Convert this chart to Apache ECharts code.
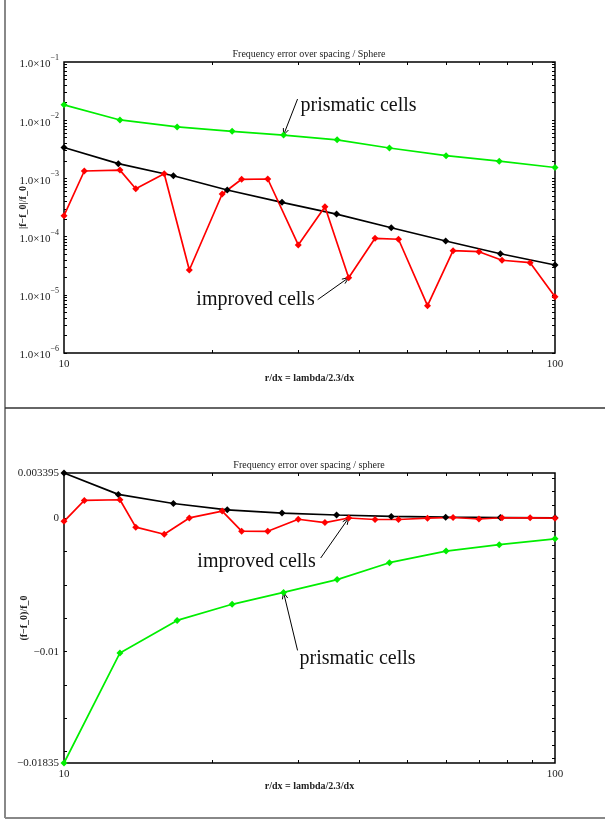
<!DOCTYPE html>
<html>
<head>
<meta charset="utf-8">
<script src="https://cdn.jsdelivr.net/npm/echarts@6/dist/echarts.min.js"></script>
<style>
  html, body { margin: 0; padding: 0; background: #fff; }
  #main { width: 605px; height: 822px; }
</style>
</head>
<body>
<div id="main"></div>
<script>
// x positions (r/dx) of each series
var xReference = [10, 12.9, 16.7, 21.5, 27.8, 35.9, 46.4, 59.9, 77.4, 100];
var xPrismatic = [10, 13, 17, 22, 28, 36, 46, 60, 77, 100];
var xImproved = [10, 11, 13, 14, 16, 18, 21, 23, 26, 30, 34, 38, 43, 48, 55, 62, 70, 78, 89, 100];

var reference = [0.003395, 0.00179, 0.00111, 0.000632, 0.000388, 0.000244, 0.000142, 0.000084, 0.0000508, 0.0000325];
var prismatic = [-0.01835, -0.0101, -0.00766, -0.00645, -0.00556, -0.0046, -0.00333, -0.00246, -0.00198, -0.00154];
var improved = [-0.000229, 0.00134, 0.00139, -0.000665, -0.0012, 0.0000267, 0.00054, -0.000965, -0.000977, -0.0000718,
  -0.000326, 0.0000197, -0.0000935, -0.00009, 0.0000065, 0.0000573, -0.000055, 0.0000392, 0.0000356, 0.00000927];

// tick labels
var linLabels = [-0.01835, -0.01, 0, 0.003395];
var xMinor = [20, 30, 40, 50, 60, 70, 80, 90];

var serif = "'Liberation Serif', 'DejaVu Serif', serif";
var ink = '#222';

function pairs(xs, ys, absolute) {
  return xs.map(function (x, i) { return [x, absolute ? Math.abs(ys[i]) : ys[i]]; });
}

var logTicks = [];
for (var e = -6; e <= -1; e++) {
  for (var m = 1; m <= 9; m++) {
    if (e === -1 && m > 1) break;
    logTicks.push(m * Math.pow(10, e));
  }
}
var linTicksLeft = [], linTicksRight = [];
for (var t = 0; t <= 7; t++) linTicksLeft.push(-0.0025 * t);
for (var t2 = -18; t2 <= 3; t2++) linTicksRight.push(0.001 * t2);

function xAxes(grid, gap) {
  return [{
    type: 'log', gridIndex: grid, position: 'bottom', min: 10, max: 100,
    name: 'r/dx = lambda/2.3/dx', nameLocation: 'middle', nameGap: gap, nameMoveOverlap: false,
    nameTextStyle: { fontFamily: serif, fontWeight: 'bold', fontSize: 10, color: ink },
    axisLine: { show: false, onZero: false },
    axisTick: { show: true, inside: true, length: 3, customValues: xMinor, lineStyle: { color: '#000' } },
    axisLabel: { fontFamily: serif, fontSize: 11, color: ink, margin: 6 },
    splitLine: { show: false }
  }, {
    type: 'log', gridIndex: grid, position: 'top', min: 10, max: 100,
    axisLine: { show: false, onZero: false },
    axisTick: { show: true, inside: true, length: 3, customValues: xMinor, lineStyle: { color: '#000' } },
    axisLabel: { show: false },
    splitLine: { show: false }
  }];
}

var option = {
  animation: false,
  backgroundColor: '#fff',
  title: [{
    text: 'Frequency error over spacing / Sphere', left: 309, top: 49, textAlign: 'center', padding: 0,
    textStyle: { fontFamily: serif, fontSize: 10, fontWeight: 'normal', color: ink }
  }, {
    text: 'Frequency error over spacing / sphere', left: 309, top: 460, textAlign: 'center', padding: 0,
    textStyle: { fontFamily: serif, fontSize: 10, fontWeight: 'normal', color: ink }
  }],
  grid: [
    { left: 64, top: 62, width: 491, height: 291, show: true, borderColor: '#000', borderWidth: 1.5, outerBoundsMode: 'none' },
    { left: 64, top: 473, width: 491, height: 290, show: true, borderColor: '#000', borderWidth: 1.5, outerBoundsMode: 'none' }
  ],
  xAxis: xAxes(0, 20).concat(xAxes(1, 18)),
  yAxis: [{
    type: 'log', gridIndex: 0, position: 'left', min: 1e-6, max: 1e-1, logBase: 10,
    name: '|f\u2212f_0|/f_0', nameLocation: 'middle', nameGap: 36, nameMoveOverlap: false,
    nameTextStyle: { fontFamily: serif, fontWeight: 'bold', fontSize: 10, color: ink },
    axisLine: { show: false, onZero: false },
    axisTick: { show: true, inside: true, length: 3, customValues: logTicks, lineStyle: { color: '#000' } },
    axisLabel: {
      margin: 5,
      formatter: function (v) {
        var p = Math.round(Math.log10(v));
        return '{b|1.0\u00d710}{s|\u2212' + (-p) + '}';
      },
      rich: {
        b: { fontFamily: serif, fontSize: 11, color: ink, lineHeight: 16, verticalAlign: 'bottom' },
        s: { fontFamily: serif, fontSize: 8, color: ink, lineHeight: 16, verticalAlign: 'top' }
      }
    },
    splitLine: { show: false }
  }, {
    type: 'log', gridIndex: 0, position: 'right', min: 1e-6, max: 1e-1, logBase: 10,
    axisLine: { show: false, onZero: false },
    axisTick: { show: true, inside: true, length: 3, customValues: logTicks, lineStyle: { color: '#000' } },
    axisLabel: { show: false },
    splitLine: { show: false }
  }, {
    type: 'value', gridIndex: 1, position: 'left', min: -0.01835, max: 0.003395,
    name: '(f\u2212f_0)/f_0', nameLocation: 'middle', nameGap: 35, nameMoveOverlap: false,
    nameTextStyle: { fontFamily: serif, fontWeight: 'bold', fontSize: 10, color: ink },
    axisLine: { show: false, onZero: false },
    axisTick: { show: true, inside: true, length: 3, customValues: linTicksLeft, lineStyle: { color: '#000' } },
    axisLabel: {
      margin: 5, customValues: linLabels, fontFamily: serif, fontSize: 11, color: ink,
      formatter: function (v) { return String(v).replace('-', '\u2212'); }
    },
    splitLine: { show: false }
  }, {
    type: 'value', gridIndex: 1, position: 'right', min: -0.01835, max: 0.003395,
    axisLine: { show: false, onZero: false },
    axisTick: { show: true, inside: true, length: 3, customValues: linTicksRight, lineStyle: { color: '#000' } },
    axisLabel: { show: false },
    splitLine: { show: false }
  }],
  series: [
    { name: 'prismatic', type: 'line', xAxisIndex: 0, yAxisIndex: 0, data: pairs(xPrismatic, prismatic, true) },
    { name: 'reference', type: 'line', xAxisIndex: 0, yAxisIndex: 0, data: pairs(xReference, reference, true) },
    { name: 'improved', type: 'line', xAxisIndex: 0, yAxisIndex: 0, data: pairs(xImproved, improved, true) },
    { name: 'prismatic', type: 'line', xAxisIndex: 2, yAxisIndex: 2, data: pairs(xPrismatic, prismatic, false) },
    { name: 'reference', type: 'line', xAxisIndex: 2, yAxisIndex: 2, data: pairs(xReference, reference, false) },
    { name: 'improved', type: 'line', xAxisIndex: 2, yAxisIndex: 2, data: pairs(xImproved, improved, false) }
  ].map(function (s) {
    var c = s.name === 'prismatic' ? '#00ee00' : (s.name === 'improved' ? '#ff0000' : '#000');
    s.symbol = 'diamond';
    s.symbolSize = 7;
    s.showSymbol = true;
    s.lineStyle = { color: c, width: 1.7 };
    s.itemStyle = { color: c };
    return s;
  })
};

var myChart = echarts.init(document.getElementById('main'));
myChart.setOption(option);

// annotation arrows: tip sits on a data point, text/tail offsets are in pixels
var notes = [
  { grid: 0, at: [xPrismatic[4], Math.abs(prismatic[4])], text: 'prismatic cells', tail: [14, -36], label: [17, -29], align: 'left' },
  { grid: 0, at: [xImproved[11], Math.abs(improved[11])], text: 'improved cells', tail: [-31, 22], label: [-34, 22], align: 'right' },
  { grid: 1, at: [xImproved[11], improved[11]], text: 'improved cells', tail: [-28, 40], label: [-33, 44], align: 'right' },
  { grid: 1, at: [xPrismatic[4], prismatic[4]], text: 'prismatic cells', tail: [14, 58], label: [16, 66], align: 'left' }
];

var graphics = [
  { type: 'line', shape: { x1: 5, y1: 0, x2: 5, y2: 818 }, style: { stroke: '#888', lineWidth: 2 } },
  { type: 'line', shape: { x1: 5, y1: 818, x2: 605, y2: 818 }, style: { stroke: '#888', lineWidth: 2 } },
  { type: 'line', shape: { x1: 5, y1: 408, x2: 605, y2: 408 }, style: { stroke: '#333', lineWidth: 1.5 } }
];

notes.forEach(function (n) {
  var tip = myChart.convertToPixel({ gridIndex: n.grid }, n.at);
  var sx = tip[0] + n.tail[0], sy = tip[1] + n.tail[1];
  var ang = Math.atan2(tip[1] - sy, tip[0] - sx);
  var hl = 7, spread = 0.4;
  graphics.push({ type: 'line', shape: { x1: sx, y1: sy, x2: tip[0], y2: tip[1] }, style: { stroke: '#000', lineWidth: 1 } });
  graphics.push({
    type: 'polyline',
    shape: { points: [
      [tip[0] - hl * Math.cos(ang - spread), tip[1] - hl * Math.sin(ang - spread)],
      [tip[0], tip[1]],
      [tip[0] - hl * Math.cos(ang + spread), tip[1] - hl * Math.sin(ang + spread)]
    ] },
    style: { stroke: '#000', fill: null, lineWidth: 1 }
  });
  graphics.push({
    type: 'text', x: tip[0] + n.label[0], y: tip[1] + n.label[1],
    style: { text: n.text, font: '20px ' + serif, fill: '#111', align: n.align, verticalAlign: 'middle' }
  });
});

myChart.setOption({ graphic: graphics });
</script>
</body>
</html>
